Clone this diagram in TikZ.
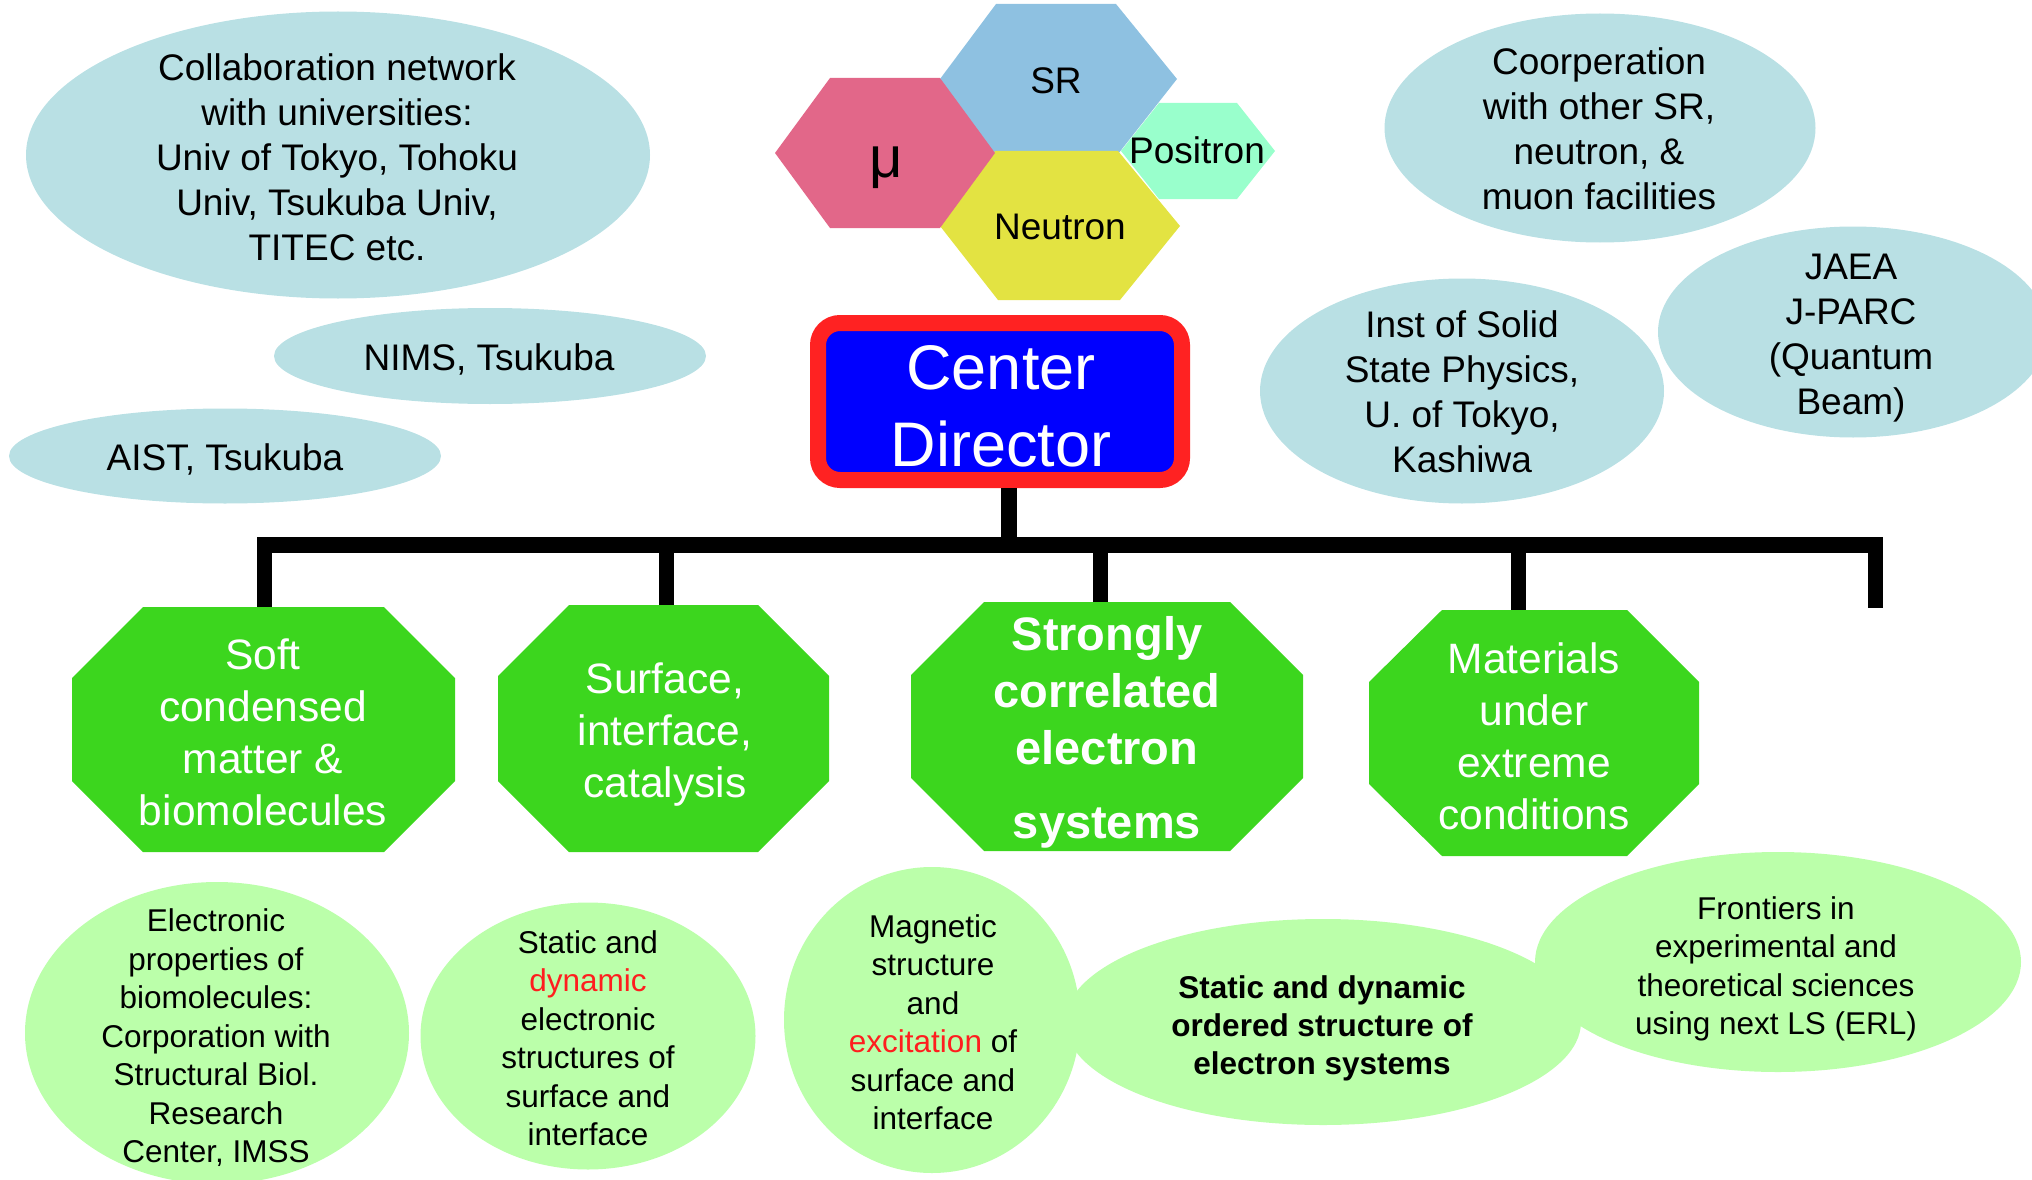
\documentclass[tikz,border=0pt]{standalone}
\usepackage{fontspec}
\setmainfont{Liberation Sans}
\usetikzlibrary{shapes.geometric}
\definecolor{lblue}{RGB}{185,224,228}
\definecolor{lgreen}{RGB}{187,255,170}
\definecolor{ogreen}{RGB}{60,214,30}
\definecolor{mupink}{RGB}{226,103,137}
\definecolor{srblue}{RGB}{142,193,225}
\definecolor{nyellow}{RGB}{227,227,66}
\definecolor{pgreen}{RGB}{153,255,204}
\definecolor{dirred}{RGB}{255,34,34}
\definecolor{txtred}{RGB}{255,30,30}
\begin{document}
\begin{tikzpicture}[x=1pt,y=-1pt,
  ellshape/.style={ellipse, inner sep=0pt, draw=none},
  topell/.style={ellshape, fill=lblue},
  botell/.style={ellshape, fill=lgreen},
  toptext/.style={align=center, inner sep=0pt, font=\fontsize{37}{45}\selectfont},
  bottext/.style={align=center, inner sep=0pt, font=\fontsize{31.5}{38.5}\selectfont},
  octtext/.style={text=white, align=center, inner sep=0pt, font=\fontsize{42.5}{52}\selectfont},
  hextext/.style={anchor=base, inner sep=0pt, font=\fontsize{37}{44}\selectfont},
  conn/.style={line width=15pt},
  barline/.style={line width=16pt},
]
\useasboundingbox (0,0) rectangle (2032,1180);
\clip (0,0) rectangle (2032,1180);

% ---------- hexagons ----------
\fill[pgreen] (1121,151) -- (1159,103) -- (1237,103) -- (1275,151) -- (1237,199) -- (1159,199) -- cycle;
\fill[srblue] (940,79) -- (996,4) -- (1116,4) -- (1177,79) -- (1118,154) -- (995,154) -- cycle;
\fill[nyellow] (940,226) -- (995,151) -- (1118,151) -- (1180,226) -- (1120,300) -- (998,300) -- cycle;
\fill[mupink] (775,153) -- (830,78) -- (940,78) -- (995,153) -- (940,228) -- (830,228) -- cycle;
\node[hextext] (srt) at (1056,94) {SR};
\node[hextext] (neut) at (1060,239) {Neutron};
\node[hextext] (post) at (1197,164) {Positron};
\node[hextext, font=\fontsize{58}{60}\selectfont] (mut) at (886,178) {μ};

% ---------- top ellipses ----------
\node[topell, minimum width=624pt, minimum height=287pt] (collab) at (338,155) {};
\node[toptext] (collabt) at (337,157) {Collaboration network\\with universities:\\Univ of Tokyo, Tohoku\\Univ, Tsukuba Univ,\\TITEC etc.};
\node[topell, minimum width=432pt, minimum height=96pt] (nims) at (490,356) {};
\node[toptext, anchor=base] (nimst) at (489,370) {NIMS, Tsukuba};
\node[topell, minimum width=432pt, minimum height=95pt] (aist) at (225,456) {};
\node[toptext, anchor=base] (aistt) at (225,470) {AIST, Tsukuba};
\node[topell, minimum width=431pt, minimum height=229pt] (coop) at (1600,128) {};
\node[toptext] (coopt) at (1599,129) {Coorperation\\with other SR,\\neutron, \&\\muon facilities};
\node[topell, minimum width=404pt, minimum height=225pt] (issp) at (1462,391) {};
\node[toptext] (isspt) at (1462,392) {Inst of Solid\\State Physics,\\U. of Tokyo,\\Kashiwa};
\node[topell, minimum width=390pt, minimum height=211pt] (jaea) at (1853,332) {};
\node[toptext] (jaeat) at (1851,338) {JAEA\\J-PARC\\(Quantum\\Beam)};

% ---------- director ----------
\node[rectangle, fill=blue, draw=dirred, line width=16pt, rounded corners=22pt,
      minimum width=364pt, minimum height=157pt, inner sep=0pt] (dir) at (1000,401.5) {};
\node[text=white, align=center, inner sep=0pt, font=\fontsize{63}{77}\selectfont] (dirt) at (1001,406) {Center\\Director};

% ---------- octagons ----------
\fill[ogreen] (143,607) -- (384,607) -- (455,678) -- (455,781) -- (384,852) -- (143,852) -- (72,781) -- (72,678) -- cycle;
\fill[ogreen] (569,605) -- (758,605) -- (829,676) -- (829,781) -- (758,852) -- (569,852) -- (498,781) -- (498,676) -- cycle;
\fill[ogreen] (984,602) -- (1230,602) -- (1303,675) -- (1303,778) -- (1230,851) -- (984,851) -- (911,778) -- (911,675) -- cycle;
\fill[ogreen] (1442,610) -- (1627,610) -- (1699,682) -- (1699,784) -- (1627,856) -- (1442,856) -- (1369,784) -- (1369,682) -- cycle;
\coordinate (o1t) at (264,607);
\coordinate (o2t) at (666,605);
\coordinate (o3t) at (1100,602);
\coordinate (o4t) at (1518,610);
\node[octtext] (o1) at (263,732) {Soft\\condensed\\matter \&\\biomolecules};
\node[octtext] (o2) at (665,735) {Surface,\\interface,\\catalysis};
\node[octtext, font=\fontsize{47}{57}\selectfont\bfseries] (o3) at (1107,732) {Strongly\\correlated\\electron\\[17pt]systems};
\node[octtext] (o4) at (1534,736) {Materials\\under\\extreme\\conditions};

% ---------- connectors ----------
\coordinate (barL) at (257,545);
\coordinate (barR) at (1883,545);
\coordinate (j0) at (1009,545);
\coordinate (j1) at (264,545);
\coordinate (j2) at (666,545);
\coordinate (j3) at (1100,545);
\coordinate (j4) at (1518,545);
\coordinate (j5) at (1875,545);
\coordinate (j5e) at (1875,608);
\draw[conn, line width=16pt] ([xshift=9pt]dir.south) -- (j0);
\draw[barline] (barL) -- (barR);
\draw[conn] (j1) -- (o1t);
\draw[conn] (j2) -- (o2t);
\draw[conn] (j3) -- (o3t);
\draw[conn] (j4) -- (o4t);
\draw[conn] (j5) -- (j5e);

% ---------- bottom ellipses ----------
\node[botell, minimum width=384pt, minimum height=302pt] (e1) at (217,1033) {};
\node[botell, minimum width=335pt, minimum height=267pt] (e2) at (588,1036) {};
\node[botell, minimum width=516pt, minimum height=206pt] (e4) at (1323,1022) {};
\node[botell, minimum width=296pt, minimum height=306pt] (e3) at (932,1020) {};
\node[botell, minimum width=486pt, minimum height=220pt] (e5) at (1778,962) {};
\node[bottext] (e1t) at (216,1038) {Electronic\\properties of\\biomolecules:\\Corporation with\\Structural Biol.\\Research\\Center, IMSS};
\node[bottext] (e2t) at (588,1038) {Static and\\\textcolor{txtred}{dynamic}\\electronic\\structures of\\surface and\\interface};
\node[bottext] (e3t) at (933,1022) {Magnetic\\structure\\and\\\textcolor{txtred}{excitation} of\\surface and\\interface};
\node[bottext, font=\fontsize{31.5}{38}\selectfont\bfseries] (e4t) at (1322,1028) {Static and dynamic\\ordered structure of\\electron systems};
\node[bottext] (e5t) at (1776,969) {Frontiers in\\experimental and\\theoretical sciences\\using next LS (ERL)};
\end{tikzpicture}
\end{document}
